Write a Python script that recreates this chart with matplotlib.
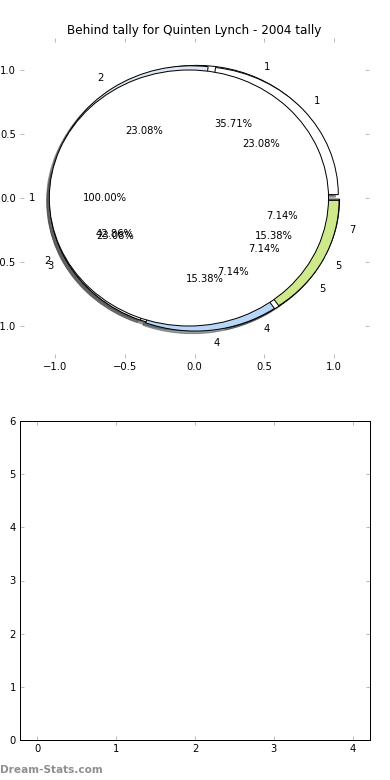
import matplotlib
matplotlib.use("Agg")
import matplotlib.pyplot as plt

# ---- data ----
title = "Behind tally for Quinten Lynch - 2004 tally"
pie_a_labels = ["1", "2", "4", "5", "7"]
pie_a_values = [5, 6, 1, 1, 1]
pie_b_labels = ["1", "2", "3", "4", "5"]
pie_b_values = [3, 3, 3, 2, 2]
pie_c_labels = ["1"]
pie_c_values = [1]
pie_ticks = [-1.0, -0.5, 0.0, 0.5, 1.0]
bar_x_ticks = [0, 1, 2, 3, 4]
bar_y_ticks = [0, 1, 2, 3, 4, 5, 6]

# ---- style ----
WHITE = "#ffffff"
BLUE = "#b8d6f8"
PALE = "#dde8f4"
GREEN = "#cee88c"
colors_a = [WHITE, WHITE, WHITE, WHITE, WHITE]
colors_b = [WHITE, PALE, WHITE, BLUE, GREEN]
colors_c = [WHITE]
EXPL = 0.04
TICK_COLOR = "#aaaaaa"

plt.rcParams["font.family"] = ["DejaVu Sans"]
plt.rcParams["font.size"] = 10

DPI = 72
W, H = 390, 780
fig = plt.figure(figsize=(W / DPI, H / DPI), dpi=DPI)

ax1 = fig.add_axes([20 / W, 1 - 358 / H, 349 / W, 320 / H])
wp = {"edgecolor": "black", "linewidth": 1.0}
shadow = {"ox": -0.02, "oy": -0.02}
for vals, labs, cols in [(pie_a_values, pie_a_labels, colors_a),
                         (pie_b_values, pie_b_labels, colors_b),
                         (pie_c_values, pie_c_labels, colors_c)]:
    ax1.pie(vals, labels=labs, colors=cols, explode=[EXPL] * len(vals),
            autopct="%1.2f%%", shadow=shadow, startangle=0,
            wedgeprops=wp, textprops={"fontsize": 10})

ax1.set_aspect("auto")
ax1.set_frame_on(False)
ax1.set_xlim(-1.25, 1.25)
ax1.set_ylim(-1.25, 1.25)
ax1.set_xticks(pie_ticks)
ax1.set_yticks(pie_ticks)
ax1.tick_params(direction="in", length=4, color=TICK_COLOR, top=True,
                right=True, labelsize=10, pad=4)
ax1.set_title(title, fontsize=12, pad=4)

ax2 = fig.add_axes([20 / W, 1 - 740 / H, 350 / W, 319 / H])
ax2.set_xlim(-0.22, 4.22)
ax2.set_ylim(0, 6)
ax2.set_xticks(bar_x_ticks)
ax2.set_yticks(bar_y_ticks)
ax2.tick_params(direction="in", length=4, color=TICK_COLOR, top=True,
                right=True, labelsize=10, pad=4)
for s in ax2.spines.values():
    s.set_linewidth(1.0)
    s.set_color("black")

fig.text(0.0, 1 - 770 / H, "Dream-Stats.com", color="#8f8f8f",
         fontsize=10.5, fontweight="bold", va="center", ha="left")

fig.savefig("out.png", dpi=DPI)
